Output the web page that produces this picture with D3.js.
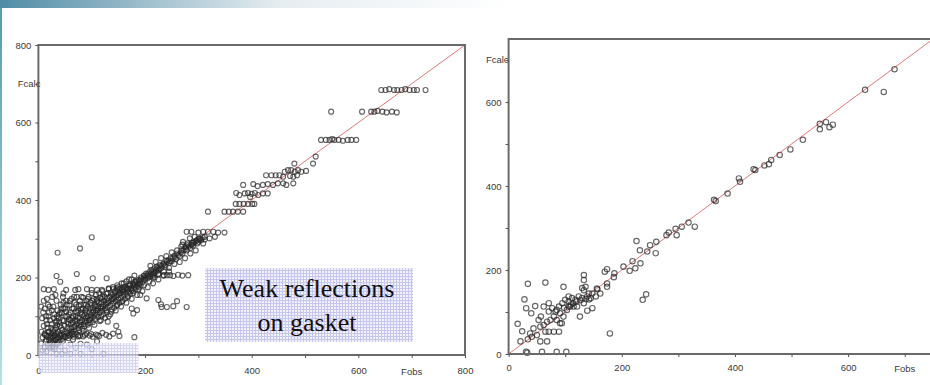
<!DOCTYPE html>
<html>
<head>
<meta charset="utf-8">
<script src="https://cdn.jsdelivr.net/npm/d3@7"></script>
<style>
  body { margin: 0; background: #fff; }
  svg { display: block; }
  .tick text { font-family: "Liberation Sans", Arial, sans-serif; font-size: 9.5px; fill: #3a3a3a; }
  .tick line { stroke: #555; }
</style>
</head>
<body>
<svg id="chart" width="930" height="385"></svg>
<script>
// ---- data (Fobs, Fcalc) ----
// left panel: dense diagonal band
const leftBand = [
  [8,12],[12,20],[15,10],[18,25],[20,18],[22,30],[25,22],[28,35],[30,28],[32,40],[35,32],[38,45],[40,36],[42,50],
  [45,42],[48,55],[50,46],[52,60],[55,50],[58,64],[60,55],[62,70],[65,60],[68,74],[70,66],[72,80],[75,70],[78,85],
  [80,76],[82,90],[85,80],[88,95],[90,86],[92,100],[95,90],[98,104],[100,95],[102,110],[105,100],[108,115],[110,104],
  [112,120],[115,110],[118,124],[120,114],[122,130],[125,120],[128,134],[130,124],[132,140],[135,128],[138,145],
  [140,134],[142,150],[145,138],[148,154],[150,144],[152,160],[155,148],[158,164],[160,154],[162,170],[165,158],
  [168,172],[170,164],[172,180],[175,168],[178,184],[180,174],[182,190],[185,178],[188,194],[190,184],[192,200],
  [195,188],[198,204],[200,194],[202,210],[205,198],[208,214],[210,204],[212,220],[215,208],[218,224],[220,214],
  [222,228],[225,218],[228,232],[230,224],[235,236],[238,228],[240,244],[245,238],[248,250],[250,242],[255,256],
  [258,248],[260,262],[265,255],[268,270],[270,262],[275,278],[278,270],[280,284],[285,276],[288,290],[290,282],
  [295,294],[298,288],[300,300],[305,296],[308,304],[312,298],
  [60,90],[70,100],[80,110],[90,120],[100,130],[110,140],[120,150],[130,160],[140,170],[150,175],[160,185],
  [170,195],[180,205],[65,40],[75,50],[85,62],[95,70],[105,78],[115,88],[125,96],[135,105],[145,115],[155,125],
  [165,135],[175,145],[185,155],[195,165],[205,175],[215,185],[225,195],[235,205],[245,215],
  [210,230],[220,240],[230,250],[240,255],[250,265],[260,270],[270,285],[215,200],[225,210],[235,215],[245,225],
  [255,235],[265,240],[275,250],[285,262],[295,270],
  [118,100],[128,110],[138,118],[148,130],[158,140],[168,150],[178,160],[188,170],[198,180],[208,190],[218,200],
  [96,84],[106,92],[86,74],[76,64],[66,54],[56,44],[46,36],[36,28],[26,18]
];
// left panel: extra points filling the darkest part of the band
const leftDense = [
  [20,60],[22,45],[25,80],[27,65],[29,95],[31,50],[33,70],[35,100],[37,60],[39,85],[41,110],[43,70],[45,90],[47,120],
  [49,75],[51,100],[53,130],[55,85],[57,105],[59,140],[61,80],[63,120],[65,100],[67,150],[69,90],[71,130],[73,110],
  [77,95],[79,130],[81,150],[83,120],[87,105],[89,130],[91,110],[93,145],[97,120],[99,100],[101,140],[103,115],
  [107,125],[109,145],[111,115],[113,135],[117,120],[119,145],[121,125],[123,140],[126,130],[129,145],[131,135],
  [134,150],[137,140],[139,155],[141,145],[143,160],[146,150],[149,165],[151,155],[154,160],[157,170],[159,162],
  [163,175],[167,168],[171,178],[174,172],[177,180],[181,182],[184,190],[187,185],[191,192],[194,198],[197,195],
  [201,200],[204,205],[207,202],[211,210],[214,215],[217,212],[221,220],[224,225],[227,222],[231,230],[234,234],
  [237,232],[241,240],[244,245],[247,242],[252,250],[256,252],[262,258],[267,264],[272,270],[277,274],[282,280],
  [287,285],[292,290],[297,296],[302,298],[15,40],[17,70],[19,100],[21,125],[23,35],[27,45],[31,65],[34,88],
  [39,105],[43,120],[47,135],[52,112],[57,92],[62,60],[67,72],[72,88],[77,78],[82,68],[87,88],[92,78],[97,92],
  [102,85],[107,108],[112,98],[117,90],[122,105],[127,115],[132,100],[137,112],[142,122],[147,128],[152,135],
  [157,138],[162,145],[167,152],[172,158],[177,165],[182,170],[187,176],[192,180]
];
// left panel: blob above the diagonal at small Fobs
const leftBlob = [
  [10,140],[12,120],[14,100],[16,80],[18,130],[20,110],[22,90],[24,70],[26,150],[28,125],[30,105],[32,85],[34,140],
  [36,115],[38,95],[40,75],[42,130],[44,108],[46,150],[48,88],[50,120],[52,140],[54,100],[56,80],[58,128],[60,110],
  [62,145],[64,95],[66,120],[68,135],[70,112],[72,150],[74,96],[76,126],[78,140],[80,118],[82,104],[84,148],[86,130],
  [88,115],[90,140],[92,125],[94,150],[96,110],[98,135],[100,160],[102,122],[104,145],[106,130],[108,155],[110,138],
  [112,125],[114,160],[116,148],[118,135],[120,165],[124,150],[128,158],[132,170],[136,160],[140,175],[144,165],
  [148,180],[152,170],[156,185],[160,175],[165,190],[170,182],[175,195],[180,188],
  [5,30],[8,45],[6,60],[10,75],[7,95],[9,110],[5,125],[12,55],[14,35],[16,145],[18,60],[20,40],[11,20],[24,50],
  [26,30],[28,58],[30,20],[33,42],[36,55],[15,90],[25,115],[35,78],[45,65],[55,70],[65,85],[75,115],[85,100]
];
// left panel: horizontal row near Fcalc 50 and the low points
const leftLow = [
  [12,52],[18,48],[24,55],[30,50],[36,46],[42,53],[48,49],[54,56],[60,50],[66,47],[72,54],[78,50],[84,48],[90,55],
  [96,50],[102,47],[108,53],[114,49],[127,52],[133,48],[152,49],[180,46],[120,57],[140,55],
  [15,50],[27,47],[39,52],[51,47],[63,54],[75,48],[87,52],[99,54],[111,51],
  [34,3],[44,3],[60,3],[79,3],[122,3],[41,22],[60,27],[91,27],[79,29],[50,12],[30,15],[70,18],[100,15]
];
// left panel: row near Fcalc 170 and scattered outliers
const leftScatter = [
  [10,170],[19,168],[29,170],[52,168],[69,168],[75,170],[91,170],[100,168],[110,168],[119,168],[132,172],[147,172],
  [157,168],[166,172],
  [100,304],[78,275],[36,264],[34,204],[72,209],[102,198],[128,198],[41,189],[32,155],[47,159],[185,116],[178,107],
  [175,120],[146,75],[130,86],[203,146],[191,155],[225,142],[231,124],[241,124],[253,126],[260,139],[278,124],
  [230,131],[150,60],[110,35],
  [198,205],[205,208],[215,205],[225,208],[235,206],[241,206],[247,206],[253,204],[262,207],[270,205],[281,206]
];
// left panel: clusters at larger Fobs
const leftHigh = [
  [278,318],[287,318],[300,316],[309,318],[318,318],[328,318],[337,316],[349,316],[284,301],[293,305],[303,301],
  [312,305],[321,301],[331,305],[271,292],[280,288],[290,290],[300,292],[309,288],[268,280],[277,280],[287,284],
  [318,370],[349,370],[357,370],[365,370],[374,370],[384,370],
  [370,390],[377,390],[385,390],[393,390],[401,390],[405,390],
  [371,418],[377,413],[387,417],[393,418],[400,416],[406,418],[412,413],[421,417],[430,417],[397,408],
  [427,464],[437,464],[445,464],[421,439],[430,441],[440,439],[449,443],[459,443],[465,439],[478,443],[411,436],
  [403,441],[384,439],
  [462,473],[468,477],[474,477],[481,473],[487,477],[493,473],[502,475],[472,462],[478,460],[485,464],[459,460],
  [452,464],
  [520,512],[515,494],[480,494],
  [530,555],[539,555],[546,555],[551,557],[555,555],[563,555],[571,553],[580,555],[587,555],[596,555],
  [549,628],[607,628],[624,628],[630,628],[636,630],[645,628],[653,626],[663,628],[672,626],
  [643,684],[651,684],[658,686],[667,684],[673,684],[681,684],[688,686],[696,684],[704,684],[710,684],[726,684]
];
// right panel
const rightPts = [
  [682,678],[630,629],[663,624],[550,548],[550,535],[561,552],[567,540],[573,546],[520,510],[498,487],[479,474],
  [464,462],[460,452],[452,449],[433,440],[436,438],[407,418],[409,410],[387,382],[363,367],[366,364],[318,313],
  [329,303],[306,303],[295,298],[297,283],[279,283],[283,289],[261,267],[250,259],[260,240],[245,244],[226,269],
  [232,247],[219,221],[233,216],[224,204],[214,198],[203,208],[187,192],[186,183],[174,202],[170,196],[174,168],
  [243,142],[237,129],[157,154],[162,144],[133,188],[133,176],[136,160],[130,157],[142,130],[148,109],[139,103],
  [126,89],[114,121],[106,137],[97,160],[65,170],[34,167],[28,130],[31,109],[16,72],[24,54],[21,30],[40,97],[47,114],
  [57,89],[62,69],[65,53],[71,53],[80,53],[89,53],[91,73],[41,41],[50,45],[34,35],[56,30],[68,30],[179,49],[31,5],
  [33,3],[59,5],[85,5],[102,5],
  [62,113],[71,121],[77,109],[83,101],[89,113],[95,121],[100,129],[106,125],[112,133],[118,129],[124,137],[130,133],
  [139,137],[145,133],[148,144],[154,137],[115,113],[103,105],[91,97],[80,89],[74,81],[68,77],[53,81],[56,65],
  [44,61],[38,49],[106,113],[121,113],[133,121],[142,144],[133,152],[109,113],[85,105],[71,101],[97,89],[85,81],
  [94,73],[156,156],[174,160],[120,125],[127,128],[136,131],[110,118],[98,110]
];
const leftTicks = [0, 100, 200, 300, 400, 500, 600, 700, 800];
const rightTicks = [0, 100, 200, 300, 400, 500, 600, 700];
const tickLabels = {0: "0", 200: "200", 400: "400", 600: "600", 800: "800"};
const xTitle = "Fobs", yTitle = "Fcalc";
const note = ["Weak reflections", "on gasket"];

const svg = d3.select("#chart");
const defs = svg.append("defs");

// slide decoration
const topGrad = defs.append("linearGradient").attr("id", "topGrad");
topGrad.append("stop").attr("offset", "0").attr("stop-color", "#4f8ca6");
topGrad.append("stop").attr("offset", "0.08").attr("stop-color", "#78a6ba");
topGrad.append("stop").attr("offset", "0.3").attr("stop-color", "#e6edf1");
topGrad.append("stop").attr("offset", "0.55").attr("stop-color", "#ffffff");
svg.append("rect").attr("width", 930).attr("height", 8).attr("fill", "url(#topGrad)");

const sideGrad = defs.append("linearGradient").attr("id", "sideGrad")
  .attr("x1", 0).attr("y1", 0).attr("x2", 0).attr("y2", 1);
sideGrad.append("stop").attr("offset", "0").attr("stop-color", "#5a9aae");
sideGrad.append("stop").attr("offset", "1").attr("stop-color", "#b4e2e4");
svg.append("rect").attr("y", 8).attr("width", 2).attr("height", 377).attr("fill", "url(#sideGrad)");

// grid fill for the annotation boxes
const pat = defs.append("pattern").attr("id", "grid")
  .attr("width", 3).attr("height", 3).attr("patternUnits", "userSpaceOnUse");
pat.append("rect").attr("width", 3).attr("height", 3).attr("fill", "#f1f1fc");
pat.append("path").attr("d", "M0,0.5H3M0.5,0V3").attr("stroke", "#c6c6ef").attr("stroke-width", 1);

function panel(o) {
  const g = svg.append("g");
  const x = d3.scaleLinear().domain(o.dom).range(o.xr);
  const y = d3.scaleLinear().domain(o.dom).range(o.yr);

  // y = x reference line
  g.append("line")
    .attr("x1", x(0)).attr("y1", y(0))
    .attr("x2", x(o.dom[1])).attr("y2", y(o.dom[1]))
    .attr("stroke", "#e27878").attr("stroke-width", 1);

  o.sets.forEach(pts => {
    g.append("g").selectAll("circle").data(pts).join("circle")
      .attr("cx", d => x(d[0])).attr("cy", d => y(d[1]))
      .attr("r", o.r)
      .attr("fill", "none")
      .attr("stroke", "#262626").attr("stroke-opacity", 0.7).attr("stroke-width", 1.15);
  });

  // frame
  g.append("rect")
    .attr("x", x(0)).attr("y", y(o.dom[1]))
    .attr("width", x(o.dom[1]) - x(0)).attr("height", y(0) - y(o.dom[1]))
    .attr("fill", "none").attr("stroke", "#6a6a6a").attr("stroke-width", 2);

  const fmt = v => v === 700 ? "" : (tickLabels[v] || "");

  const xa = g.append("g").attr("transform", `translate(0,${y(0)})`)
    .call(d3.axisBottom(x).tickValues(o.ticks).tickSize(3).tickPadding(o.xpad).tickFormat(fmt));
  xa.select(".domain").remove();

  const ya = g.append("g").attr("transform", `translate(${x(0)},0)`)
    .call(d3.axisLeft(y).tickValues(o.ticks.filter(v => v <= o.dom[1])).tickSize(3).tickPadding(4).tickFormat(fmt));
  ya.select(".domain").remove();

  g.append("text").attr("x", x(700)).attr("y", y(0) + o.xpad + 11)
    .attr("text-anchor", "middle")
    .attr("font-family", "Liberation Sans, Arial, sans-serif").attr("font-size", 9.5).attr("fill", "#3a3a3a")
    .text(xTitle);
  g.append("text").attr("x", x(0) + o.ytx).attr("y", y(700) + 3)
    .attr("text-anchor", "end")
    .attr("font-family", "Liberation Sans, Arial, sans-serif").attr("font-size", 9.5).attr("fill", "#3a3a3a")
    .text(yTitle);
  return {x, y};
}

const L = panel({
  dom: [0, 800], xr: [38.4, 465], yr: [355, 45], ticks: leftTicks, r: 2.5, xpad: 9, ytx: 2,
  sets: [leftBand, leftDense, leftBlob, leftLow, leftScatter, leftHigh]
});
panel({
  dom: [0, 750], xr: [508.6, 933], yr: [354, 39], ticks: rightTicks, r: 2.7, xpad: 7, ytx: 0,
  sets: [rightPts]
});

// annotation boxes
svg.append("rect").attr("x", L.x(0)).attr("y", 343).attr("width", 100).attr("height", 30)
  .attr("fill", "url(#grid)").attr("opacity", 0.75);
svg.append("rect").attr("x", 205).attr("y", 268).attr("width", 208).attr("height", 74)
  .attr("fill", "url(#grid)");
svg.append("text").attr("text-anchor", "middle")
  .attr("font-family", "Liberation Serif, Times New Roman, serif").attr("font-size", 26).attr("fill", "#111")
  .selectAll("tspan").data(note).join("tspan")
  .attr("x", 307).attr("y", (d, i) => 297 + i * 34).text(d => d);
</script>
</body>
</html>
